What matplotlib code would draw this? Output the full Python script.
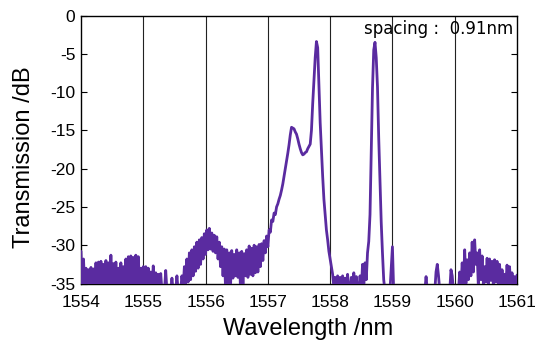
import numpy as np
import matplotlib
matplotlib.use("Agg")
import matplotlib.pyplot as plt

plt.rcParams["font.family"] = ["Liberation Sans", "DejaVu Sans"]
plt.rcParams["axes.unicode_minus"] = False

# Transmission spectrum sampled every 0.02 nm from 1554 to 1561 nm (dB)
transmission_db = [
    -30.8, -35.5, -31.8, -35.5, -33.0, -35.5, -33.2, -35.5, -32.9, -35.5,
    -33.1, -35.5, -32.3, -35.5, -32.2, -35.5, -32.1, -35.5, -32.5, -35.5,
    -32.0, -35.5, -32.3, -35.5, -31.3, -35.5, -32.4, -35.5, -32.2, -35.5,
    -33.0, -35.5, -32.3, -35.5, -32.8, -35.5, -31.8, -35.5, -31.5, -35.5,
    -31.4, -35.5, -31.6, -35.5, -31.3, -35.5, -31.5, -35.5, -33.0, -35.5,
    -32.8, -35.5, -32.8, -35.5, -33.0, -35.5, -33.5, -35.5, -32.7, -35.5,
    -33.6, -35.5, -33.8, -35.5, -33.7, -36.0, -36.0, -36.0, -33.3, -36.0,
    -36.0, -36.0, -36.0, -34.3, -36.0, -36.0, -36.0, -34.0, -36.0, -36.0,
    -36.0, -34.0, -35.5, -32.8, -35.0, -31.8, -34.8, -31.0, -34.5, -30.6,
    -34.0, -30.2, -33.4, -29.6, -33.0, -29.3, -32.5, -29.0, -31.8, -28.5,
    -31.2, -28.0, -30.6, -27.8, -30.5, -28.4, -30.8, -28.7, -31.0, -28.9,
    -31.8, -29.6, -32.8, -30.2, -34.0, -30.5, -35.5, -30.6, -35.5, -31.0,
    -35.5, -30.7, -34.3, -31.2, -34.0, -30.6, -34.2, -31.0, -35.5, -30.8,
    -35.3, -31.1, -34.0, -30.6, -34.2, -30.1, -33.8, -30.4, -34.0, -30.0,
    -33.6, -30.2, -33.5, -29.9, -32.8, -29.8, -32.0, -29.4, -31.0, -28.8,
    -30.2, -28.0, -28.3, -26.7, -26.9, -25.8, -26.0, -25.0, -24.6, -24.0,
    -23.5, -22.8, -22.0, -21.0, -20.0, -19.0, -18.0, -16.9, -15.6, -14.6,
    -14.7, -14.8, -15.2, -15.5, -16.1, -16.8, -17.4, -17.9, -18.2, -18.1,
    -17.9, -17.8, -17.4, -17.1, -16.8, -15.0, -11.5, -8.5, -5.5, -3.4,
    -4.2, -9.0, -14.0, -17.5, -21.0, -24.0, -26.0, -28.0, -29.3, -30.8,
    -31.8, -32.8, -33.8, -35.5, -34.2, -35.5, -34.0, -35.5, -34.2, -35.5,
    -34.0, -36.0, -34.3, -36.0, -33.8, -36.0, -36.0, -34.2, -36.0, -33.6,
    -36.0, -34.1, -36.0, -36.0, -34.0, -36.0, -32.5, -35.5, -32.3, -34.5,
    -31.0, -29.5, -26.0, -17.5, -9.5, -4.5, -3.5, -5.5, -9.3, -16.0,
    -21.5, -27.0, -31.0, -34.5, -36.0, -36.0, -36.0, -36.0, -36.0, -33.0,
    -30.2, -36.0, -36.0, -36.0, -36.0, -36.0, -36.0, -36.0, -36.0, -36.0,
    -36.0, -36.0, -36.0, -36.0, -36.0, -36.0, -36.0, -36.0, -36.0, -36.0,
    -36.0, -36.0, -36.0, -36.0, -36.0, -36.0, -36.0, -34.1, -36.0, -36.0,
    -36.0, -36.0, -36.0, -36.0, -36.0, -33.5, -32.5, -34.0, -36.0, -36.0,
    -36.0, -36.0, -36.0, -36.0, -36.0, -36.0, -36.0, -33.2, -34.0, -36.0,
    -36.0, -36.0, -36.0, -36.0, -33.5, -35.5, -32.3, -35.5, -30.6, -35.0,
    -31.9, -34.5, -31.0, -34.0, -29.6, -33.5, -29.3, -32.5, -31.0, -35.5,
    -30.6, -34.5, -31.4, -35.0, -32.8, -34.8, -31.7, -35.0, -31.8, -34.6,
    -32.1, -35.2, -31.9, -34.8, -32.1, -35.0, -32.5, -35.3, -33.2, -35.0,
    -33.8, -35.2, -32.6, -35.0, -32.8, -35.3, -33.6, -35.2, -34.1, -35.0,
    -33.9,
]
wavelength_nm = np.linspace(1554.0, 1561.0, len(transmission_db))

x_ticks = [1554, 1555, 1556, 1557, 1558, 1559, 1560, 1561]
y_ticks = [0, -5, -10, -15, -20, -25, -30, -35]
annotation = "spacing :  0.91nm"

fig = plt.figure(figsize=(5.36, 3.41), dpi=100)
ax = fig.add_axes([81 / 536, 1 - 283.5 / 341, 436 / 536, 268 / 341])

for xv in x_ticks[1:-1]:
    ax.axvline(xv, color="#222222", lw=0.8, zorder=1)

ax.plot(wavelength_nm, transmission_db, color="#5a2ba0", lw=2.0,
        solid_joinstyle="round", solid_capstyle="round", zorder=3)

ax.set_xlim(1554, 1561)
ax.set_ylim(-35, 0)
ax.set_xticks(x_ticks)
ax.set_yticks(y_ticks)
ax.tick_params(axis="both", direction="in", labelsize=12.5, length=4,
               width=0.8, top=False, right=True, colors="black")
ax.tick_params(axis="x", length=0, pad=8)
ax.tick_params(axis="y", pad=4)
for s in ax.spines.values():
    s.set_linewidth(1.0)

ax.set_xlabel("Wavelength /nm", fontsize=17)
ax.set_ylabel("Transmission /dB", fontsize=17)
ax.xaxis.set_label_coords(0.52, -0.128)
ax.yaxis.set_label_coords(-0.105, 0.47)

ax.text(0.991, 0.931, annotation, transform=ax.transAxes, ha="right",
        va="baseline", fontsize=12, family=["DejaVu Sans"], zorder=4)

fig.savefig("out.png", dpi=100)
